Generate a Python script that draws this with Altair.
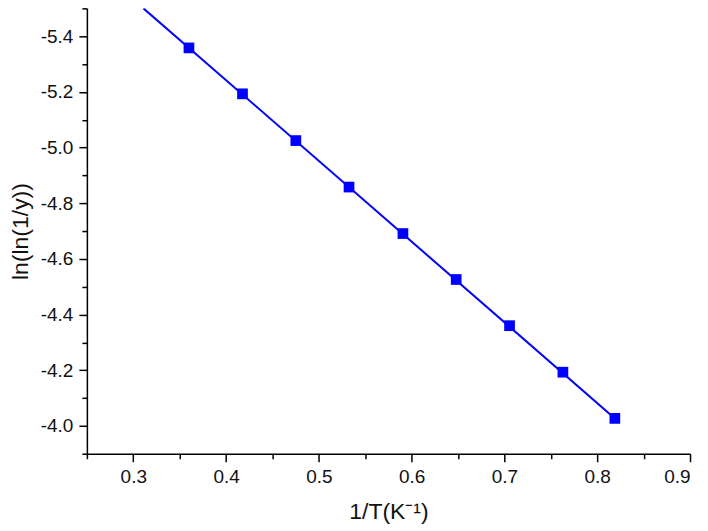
import altair as alt
import pandas as pd

# Data
inv_T = [0.360, 0.4177, 0.4752, 0.5325, 0.5906, 0.648, 0.7055, 0.763, 0.819]
lnln = [-5.358, -5.193, -5.025, -4.858, -4.691, -4.526, -4.360, -4.193, -4.027]
fit_x = [0.311, 0.819]
fit_y = [-5.50, -4.027]

x_major = [0.3, 0.4, 0.5, 0.6, 0.7, 0.8, 0.9]
x_minor = [0.25, 0.35, 0.45, 0.55, 0.65, 0.75, 0.85]
y_major = [-5.4, -5.2, -5.0, -4.8, -4.6, -4.4, -4.2, -4.0]
y_minor = [-5.5, -5.3, -5.1, -4.9, -4.7, -4.5, -4.3, -4.1, -3.9]

pts = pd.DataFrame({"x": inv_T, "y": lnln})
fit = pd.DataFrame({"x": fit_x, "y": fit_y})

FONT = "Liberation Sans"
xscale = alt.Scale(domain=[0.25, 0.9], nice=False, zero=False)
yscale = alt.Scale(domain=[-5.5, -3.9], nice=False, zero=False, reverse=True)

common = dict(domainColor="#000000", domainWidth=1.5, tickColor="#000000",
              tickWidth=1.5, grid=False, labelFont=FONT, labelColor="#111111",
              titleFont=FONT, titleColor="#111111", titleFontWeight="normal")

x_ax = alt.Axis(values=x_major, format=".1f", tickSize=8, labelFontSize=19,
                labelPadding=6, title="1/T(K⁻¹)", titleFontSize=23,
                titlePadding=14, orient="bottom", **common)
y_ax = alt.Axis(values=y_major, tickSize=8, labelFontSize=19,
                labelExpr="replace(format(datum.value, '.1f'), '\u2212', '-')",
                labelPadding=6, title="ln(ln(1/y))", titleFontSize=23,
                titlePadding=8, orient="left", **common)

line = alt.Chart(fit).mark_line(color="#0000FF", strokeWidth=2, clip=True).encode(
    x=alt.X("x:Q", scale=xscale, axis=x_ax),
    y=alt.Y("y:Q", scale=yscale, axis=y_ax),
)

points = alt.Chart(pts).mark_square(color="#0000FF", size=115, opacity=1).encode(
    x=alt.X("x:Q", scale=xscale, axis=None),
    y=alt.Y("y:Q", scale=yscale, axis=None),
)

minor = alt.Chart(pts).mark_point(opacity=0).encode(
    x=alt.X("x:Q", scale=xscale,
            axis=alt.Axis(values=x_minor, labels=False, domain=False, tickSize=5,
                          tickWidth=1.5, tickColor="#000000", title=None,
                          grid=False, orient="bottom")),
    y=alt.Y("y:Q", scale=yscale,
            axis=alt.Axis(values=y_minor, labels=False, domain=False, tickSize=5,
                          tickWidth=1.5, tickColor="#000000", title=None,
                          grid=False, orient="left")),
)

chart = alt.layer(line, points, minor).resolve_axis(
    x="independent", y="independent"
).properties(
    width=604, height=446,
    autosize=alt.AutoSizeParams(type="none"),
    padding={"left": 79, "top": 0, "right": 10, "bottom": 70},
).configure_view(stroke=None)

chart.save("out.html", embed_options={"renderer": "svg", "actions": False})
